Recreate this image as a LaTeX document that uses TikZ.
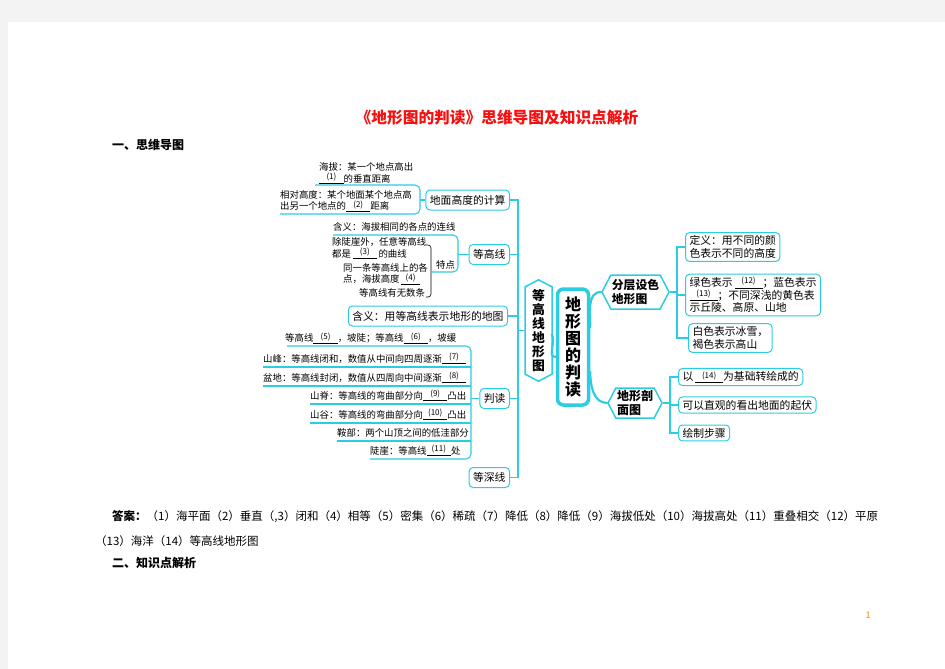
\documentclass[tikz,border=0pt]{standalone}
\usepackage{fontspec}
\setmainfont{Noto Sans CJK SC}
\usetikzlibrary{positioning}
\usetikzlibrary{shapes.symbols}
\usetikzlibrary{calc}
\definecolor{mapline}{RGB}{45,205,225}
\definecolor{pagegray}{RGB}{243,243,243}
\definecolor{titlered}{RGB}{245,15,15}
\newcommand{\fillgap}[2][2.6em]{\underline{\makebox[#1]{\raisebox{2.5pt}{\fontsize{8}{8}\selectfont(#2)}}}}

\begin{document}
\begin{tikzpicture}[x=1pt,y=-1pt,
    note/.style={inner sep=0pt, font=\fontsize{9.4}{11.5}\selectfont, align=left},
    leaf/.style={draw=mapline, line width=1pt, rounded corners=4pt, fill=white,
      inner xsep=4pt, inner ysep=3pt, font=\fontsize{10.8}{12.8}\selectfont, align=left},
    firstbox/.style={leaf, minimum height=20pt},
    hexnode/.style={signal, signal pointer angle=125, draw=mapline, line width=1.5pt,
      fill=white, inner sep=1pt, align=left},
    rootnode/.style={draw=mapline, line width=3.5pt, rounded corners=6pt, fill=white,
      inner sep=0pt, minimum width=31pt, minimum height=116pt, align=center,
      font=\bfseries\fontsize{16}{17}\selectfont},
    twig/.style={draw=mapline, line width=1.1pt},
    limb/.style={draw=mapline, line width=2.2pt, line cap=round}]

  % page
  \fill[pagegray] (0,0) rectangle (945,669);
  \fill[white] (8,22) rectangle (945,669);
  \useasboundingbox (0,0) rectangle (945,669);

  % headings
  \node[inner sep=0pt, text=titlered, font=\bfseries\fontsize{15.7}{18}\selectfont] (title) at (497,118) {《地形图的判读》思维导图及知识点解析};
  \node[inner sep=0pt, anchor=west, font=\bfseries\fontsize{12}{14}\selectfont] (head1) at (112,145) {一、思维导图};

  % centre and main branches
  \node[rootnode] (root) at (573,347) {地\\形\\图\\的\\判\\读};
  \node[hexnode, signal to=north and south, minimum width=27pt, minimum height=95pt,
    align=center, font=\bfseries\fontsize{12.8}{14}\selectfont] (dgxt) at (538.5,330.5) {等\\高\\线\\地\\形\\图};
  \node[hexnode, signal to=east and west, minimum width=67pt, minimum height=34pt,
    font=\bfseries\fontsize{11.8}{14}\selectfont] (fcst) at (635.5,292) {分层设色\\地形图};
  \node[hexnode, signal to=east and west, minimum width=54pt, minimum height=30pt,
    font=\bfseries\fontsize{12}{14}\selectfont] (pmt) at (635,403) {地形剖\\面图};

  \draw[limb] ($(root.north east)+(0,40)$) to[out=90,in=180] (fcst.west);
  \draw[limb] ($(root.south east)+(0,-35)$) to[out=-90,in=180] (pmt.west);
  \draw[limb] ($(dgxt.east)+(-1,4)$) to[out=-60,in=180] ($(root.west)+(0,10)$);

  % right side
  \node[leaf, anchor=west] (ys1) at (685,247) {定义：用不同的颜\\色表示不同的高度};
  \node[leaf, anchor=west] (ys2) at (685,295) {绿色表示\,\fillgap{12}；蓝色表示\\\fillgap{13}；不同深浅的黄色表\\示丘陵、高原、山地};
  \node[leaf, anchor=west] (ys3) at (688,338) {白色表示冰雪，\\褐色表示高山};
  \coordinate (fcv) at (677,292);
  \draw[twig] (fcst.east) -- (fcv);
  \draw[twig] (ys1.west) -| (fcv) |- (ys3.west);
  \draw[twig] (ys2.west) -- (ys2.west -| fcv);

  \node[leaf, anchor=west] (pm1) at (678,377) {以\,\fillgap{14}为基础转绘成的};
  \node[leaf, anchor=west] (pm2) at (678,405) {可以直观的看出地面的起伏};
  \node[leaf, anchor=west] (pm3) at (678,433) {绘制步骤};
  \coordinate (pmv) at (670,403);
  \draw[twig] (pmt.east) -- (pmv);
  \draw[twig] (pm1.west) -| (pmv) |- (pm3.west);
  \draw[twig] (pm2.west) -- (pm2.west -| pmv);

  % left side
  \node[firstbox, anchor=east] (calc) at (510,200) {地面高度的计算};
  \node[firstbox, anchor=east] (dgx) at (510,254.5) {等高线};
  \node[firstbox, anchor=east] (hy) at (508,316) {含义：用等高线表示地形的地图};
  \node[firstbox, anchor=east] (pd) at (510,398.5) {判读};
  \node[firstbox, anchor=east] (dsx) at (510,477.5) {等深线};
  \coordinate (lt) at (518,330.5);
  \draw[twig] (dgxt.west) -- (lt);
  \draw[twig] (calc.east) -| (lt) |- (dsx.east);
  \draw[twig] (dgx.east) -- (dgx.east -| lt);
  \draw[twig] (hy.east) -- (hy.east -| lt);
  \draw[twig] (pd.east) -- (pd.east -| lt);

  % height
  \node[note, anchor=west] (hb) at (319,173.5) {海拔：某一个地点高出\\\fillgap{1}的垂直距离};
  \node[note, anchor=west] (xd) at (280,201) {相对高度：某个地面某个地点高\\出另一个地点的\fillgap{2}距离};
  \coordinate (cb) at (420,200);
  \draw[twig, rounded corners=5pt] (315,185) -| (420,214) -- (280,214);
  \draw[twig] (calc.west) -- (cb);

  % contour lines
  \node[note, anchor=west] (hy1) at (333,227) {含义：海拔相同的各点的连线};
  \coordinate (dv) at (458,254.5);
  \draw[twig, rounded corners=5pt] (333,235) -| (458,272) -- (432,272);
  \draw[twig] (dgx.west) -- (dv);
  \node[note, anchor=west] (td) at (436,265) {特点};
  \draw[line width=0.6pt, rounded corners=3pt] (426,245) -| (431,297) -- (426,297);
  \node[note, anchor=west] (td1) at (332,248.5) {除陡崖外，任意等高线\\都是\,\fillgap{3}\,的曲线};
  \node[note, anchor=west] (td2) at (343,274) {同一条等高线上的各\\点，海拔高度\,\fillgap[2em]{4}};
  \node[note, anchor=west] (td3) at (359,293) {等高线有无数条};

  % reading
  \node[note, anchor=west] (p0) at (285,338) {等高线\fillgap{5}，坡陡；等高线\fillgap{6}，坡缓};
  \coordinate (pv) at (471,398.5);
  \draw[twig, rounded corners=5pt] (287,346) -| (471,459) -- (370,459);
  \draw[twig] (pd.west) -- (pv);
  \foreach \ux/\uy/\txt [count=\i] in {263/367/{山峰：等高线闭和，数值从中间向四周逐渐\fillgap{7}},
      263/386/{盆地：等高线封闭，数值从四周向中间逐渐\fillgap{8}},
      310/404/{山脊：等高线的弯曲部分向\fillgap{9}凸出},
      310/423/{山谷：等高线的弯曲部分向\fillgap{10}凸出},
      337/441/{鞍部：两个山顶之间的低洼部分}}
    {\draw[twig] (\ux,\uy) -- (pv |- \ux,\uy);
     \node[note, anchor=base west] (p\i) at (\ux,\uy-5) {\txt};}
  \node[note, anchor=base west] (p6) at (370,454) {陡崖：等高线\fillgap{11}处};

  % answers
  \node[inner sep=0pt, anchor=west, font=\fontsize{11.5}{14}\selectfont] (ans1) at (112,517) {\textbf{答案：}（1）海平面（2）垂直（,3）闭和（4）相等（5）密集（6）稀疏（7）降低（8）降低（9）海拔低处（10）海拔高处（11）重叠相交（12）平原};
  \node[inner sep=0pt, anchor=west, font=\fontsize{11.5}{14}\selectfont] (ans2) at (95,541) {（13）海洋（14）等高线地形图};
  \node[inner sep=0pt, anchor=west, font=\bfseries\fontsize{12}{14}\selectfont] (head2) at (112,563) {二、知识点解析};
  \node[inner sep=0pt, text=orange, font=\fontsize{9}{9}\selectfont] (pg) at (868,615) {1};
\end{tikzpicture}
\end{document}
